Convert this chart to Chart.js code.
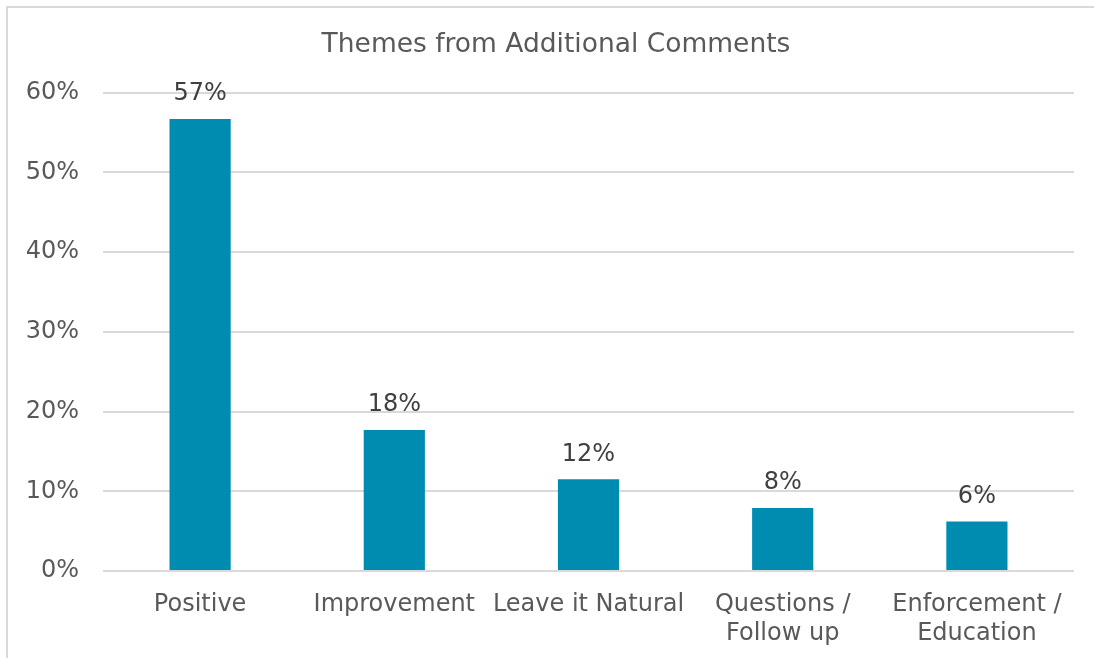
<!DOCTYPE html>
<html>
<head>
<meta charset="utf-8">
<script src="https://cdn.jsdelivr.net/npm/chart.js@4.4.1/dist/chart.umd.min.js"></script>
<style>
  html, body { margin: 0; padding: 0; background: #fff; overflow: hidden; }
  #wrap { position: relative; width: 1094px; height: 658px; overflow: hidden; }
  #marco { position: absolute; left: 6px; top: 6px; right: 0; bottom: 0; border-left: 2px solid #d9d9d9; border-top: 2px solid #d9d9d9; }
  canvas { position: absolute; left: 0; top: 0; }
</style>
</head>
<body>
<div id="wrap">
  <div id="marco"></div>
  <canvas id="myChart" width="1094" height="658"></canvas>
</div>
<script>
// datos del grafico
const categorias = ['Positive', 'Improvement', 'Leave it Natural', ['Questions /', 'Follow up'], ['Enforcement /', 'Education']];
const valores = [56.7, 17.7, 11.5, 7.9, 6.2];
const ticks_y = [0, 10, 20, 30, 40, 50, 60];

const gris = '#595959';
const fuente = 'DejaVu Sans, Verdana, sans-serif';

// plugin para poner el porcentaje encima de cada barra
const etiquetas = {
    id: 'etiquetas',
    afterDatasetsDraw(chart) {
        const ctx = chart.ctx;
        const meta = chart.getDatasetMeta(0);
        ctx.save();
        ctx.font = '24px ' + fuente;
        ctx.fillStyle = '#404040';
        ctx.textAlign = 'center';
        ctx.textBaseline = 'middle';
        meta.data.forEach((bar, i) => {
            ctx.fillText(Math.round(valores[i]) + '%', bar.x, bar.y - 25);
        });
        ctx.restore();
    }
};

// mueve el titulo un poco a la derecha (en el original esta centrado en el marco completo)
const centrar_titulo = {
    id: 'centrar_titulo',
    afterLayout(chart) {
        if (chart.titleBlock) {
            chart.titleBlock.left += 38;
        }
    }
};

window.onload = () => {
    var ctx = document.getElementById('myChart').getContext('2d');
    var chart = new Chart(ctx, {
        type: 'bar',
        data: {
            labels: categorias,
            datasets: [{
                data: valores,
                backgroundColor: '#008bb0',
                categoryPercentage: 1,
                barPercentage: 0.315
            }]
        },
        options: {
            responsive: false,
            animation: false,
            layout: { padding: { left: 0, right: 20, top: 0, bottom: 0 } },
            plugins: {
                legend: { display: false },
                tooltip: { enabled: false },
                title: {
                    display: true,
                    text: 'Themes from Additional Comments',
                    color: gris,
                    font: { family: fuente, size: 26.5, weight: 'normal', lineHeight: 1.2 },
                    padding: { top: 29, bottom: 32 }
                }
            },
            scales: {
                x: {
                    grid: { display: false },
                    border: { display: false },
                    ticks: {
                        color: gris,
                        font: { family: fuente, size: 24, lineHeight: 1.22 },
                        maxRotation: 0,
                        autoSkip: false,
                        padding: 11
                    },
                    afterFit: (scale) => { scale.height = 87; }
                },
                y: {
                    min: 0,
                    max: 60,
                    afterBuildTicks: (scale) => { scale.ticks = ticks_y.map(v => ({ value: v })); },
                    grid: { color: '#d9d9d9', lineWidth: 2, drawTicks: false },
                    border: { display: false },
                    ticks: {
                        color: gris,
                        font: { family: fuente, size: 24 },
                        padding: 24,
                        callback: (v) => v + '%'
                    },
                    afterFit: (scale) => { scale.width = 103; }
                }
            }
        },
        plugins: [etiquetas, centrar_titulo]
    });
};
</script>
</body>
</html>
